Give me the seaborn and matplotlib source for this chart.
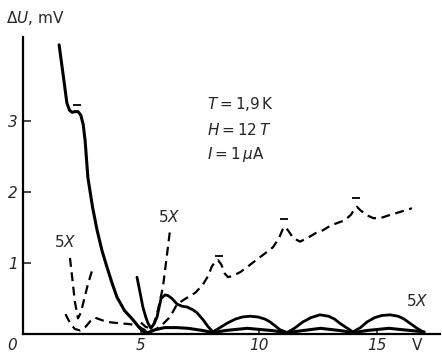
import numpy as np
import pandas as pd
import seaborn as sns
import matplotlib
matplotlib.use('Agg')
import matplotlib.pyplot as plt

# main solid trace (1X)
solid_x = [1.53, 1.7, 1.86, 1.97, 2.08, 2.2, 2.33, 2.45, 2.55, 2.63, 2.75, 2.95, 3.14,
           3.35, 3.56, 3.77, 3.98, 4.3, 4.66, 4.9, 5.08, 5.3, 5.6, 6.0, 6.5, 7.0, 7.6,
           8.05, 8.6, 9.5, 10.5, 11.2, 11.9, 12.6, 13.4, 14.0, 14.6, 15.5, 16.4, 17.0]
solid_y = [4.07, 3.65, 3.25, 3.15, 3.12, 3.13, 3.13, 3.08, 2.95, 2.73, 2.2, 1.78, 1.46,
           1.17, 0.94, 0.72, 0.52, 0.33, 0.2, 0.1, 0.04, 0.02, 0.06, 0.09, 0.09, 0.08, 0.05,
           0.02, 0.05, 0.08, 0.05, 0.02, 0.05, 0.08, 0.05, 0.02, 0.05, 0.08, 0.05, 0.03]

# solid trace magnified 5X
solid5_x = [4.83, 4.95, 5.08, 5.2, 5.3, 5.42, 5.55, 5.68, 5.85, 6.02, 6.15, 6.31, 6.53,
            6.75, 6.95, 7.2, 7.37, 7.63, 7.85, 8.05, 8.3, 8.64, 9.0, 9.3, 9.62, 9.95,
            10.25, 10.47, 10.7, 10.89, 11.19, 11.5, 11.86, 12.2, 12.58, 12.95, 13.2,
            13.43, 13.7, 13.98, 14.3, 14.58, 14.9, 15.2, 15.55, 15.9, 16.15, 16.4, 16.7, 16.95]
solid5_y = [0.8, 0.6, 0.38, 0.24, 0.15, 0.08, 0.14, 0.24, 0.5, 0.55, 0.54, 0.5, 0.42,
            0.39, 0.38, 0.34, 0.3, 0.2, 0.1, 0.03, 0.08, 0.15, 0.21, 0.24, 0.25, 0.24,
            0.21, 0.17, 0.11, 0.06, 0.02, 0.08, 0.17, 0.23, 0.27, 0.25, 0.21,
            0.15, 0.09, 0.03, 0.09, 0.17, 0.23, 0.26, 0.27, 0.25, 0.21, 0.15, 0.08, 0.03]

# dashed trace (1X)
dash_x = [1.8, 2.0, 2.2, 2.42, 2.65, 2.85, 3.05, 3.3, 3.56, 4.11, 4.5, 4.83, 5.08, 5.35,
          5.6, 5.9, 6.23, 6.53, 6.9, 7.3, 7.63, 7.85, 8.0, 8.15, 8.26, 8.4, 8.55, 8.69,
          8.9, 9.2, 9.49, 9.8, 10.2, 10.59, 10.85, 11.0, 11.1, 11.25, 11.45, 11.74, 12.1,
          12.4, 12.71, 13.0, 13.3, 13.64, 13.9, 14.05, 14.15, 14.3, 14.58, 14.85, 15.13,
          15.5, 15.9, 16.2, 16.48]
dash_y = [0.28, 0.15, 0.07, 0.05, 0.1, 0.18, 0.23, 0.2, 0.17, 0.15, 0.14, 0.12, 0.07, 0.03,
          0.06, 0.13, 0.24, 0.42, 0.5, 0.58, 0.7, 0.82, 0.95, 1.02, 1.04, 0.98, 0.85, 0.8,
          0.82, 0.87, 0.94, 1.02, 1.12, 1.22, 1.35, 1.47, 1.51, 1.45, 1.35, 1.3, 1.36,
          1.42, 1.46, 1.52, 1.56, 1.6, 1.68, 1.76, 1.79, 1.74, 1.67, 1.63, 1.63,
          1.67, 1.71, 1.74, 1.77]

# dashed traces magnified 5X
dash5a_x = [1.99, 2.1, 2.2, 2.33, 2.45, 2.6, 2.75, 2.97]
dash5a_y = [1.07, 0.75, 0.45, 0.22, 0.3, 0.5, 0.7, 0.94]
dash5b_x = [5.0, 5.2, 5.42, 5.55, 5.72, 5.93, 6.08, 6.23]
dash5b_y = [0.16, 0.1, 0.08, 0.15, 0.34, 0.66, 1.06, 1.46]

# little bars over the peaks
mark_x = [2.3, 8.3, 11.05, 14.1]
mark_y = [3.22, 1.1, 1.62, 1.91]

# labels
params = ['$T=1{,}9\\,$K', '$H=12\\,T$', '$I=1\\,\\mu$A']
mag_pos = [(1.78, 1.3), (6.19, 1.65), (16.7, 0.46)]

sns.set_style('ticks')
plt.rcParams['font.family'] = ['DejaVu Sans']
plt.rcParams['mathtext.fontset'] = 'dejavusans'

fig = plt.figure(figsize=(4.42, 3.58), dpi=100)
ax = fig.add_axes([23 / 442, 1 - 334 / 358, (440 - 23) / 442, (334 - 37) / 358])

sns.lineplot(x=solid_x, y=solid_y, color='black', lw=2.2, ax=ax, sort=False)
sns.lineplot(x=solid5_x, y=solid5_y, color='black', lw=2.0, ax=ax, sort=False)
for xs, ys in [(dash_x, dash_y), (dash5a_x, dash5a_y), (dash5b_x, dash5b_y)]:
    sns.lineplot(x=xs, y=ys, color='black', lw=1.6, ax=ax, sort=False,
                 linestyle=(0, (4, 2.5)))
ax.plot(mark_x, mark_y, ls='none', marker='_', ms=6, mew=1.3, color='black')

ax.set_xlim(0, 17.67)
ax.set_ylim(0, 4.18)
ax.set_xticks([5, 10, 15, 16.7])
ax.set_xticklabels(['5', '10', '15', 'V'])
ax.set_yticks([1, 2, 3])
ax.set_yticklabels(['1', '2', '3'])
ax.tick_params(axis='both', direction='in', length=6, width=1.2, labelsize=11)
ax.tick_params(axis='x', length=3, pad=3)
for lab in ax.get_xticklabels()[:3] + ax.get_yticklabels():
    lab.set_style('italic')
ax.xaxis.get_major_ticks()[3].tick1line.set_visible(False)
for s in ['top', 'right']:
    ax.spines[s].set_visible(False)
for s in ['left', 'bottom']:
    ax.spines[s].set_linewidth(1.6)
    ax.spines[s].set_color('black')

fig.text(12 / 442, 1 - 345 / 358, '0', style='italic', fontsize=11, ha='center', va='center')
fig.text(6 / 442, 1 - 18 / 358, '$\\Delta U$, mV', fontsize=11, ha='left', va='center')

for i, t in enumerate(params):
    ax.text(7.8, 3.23 - 0.355 * i, t, fontsize=11, ha='left', va='center')
for x, y in mag_pos:
    ax.text(x, y, '5$X$', fontsize=11, ha='center', va='center')

fig.savefig('out.png', dpi=100)
